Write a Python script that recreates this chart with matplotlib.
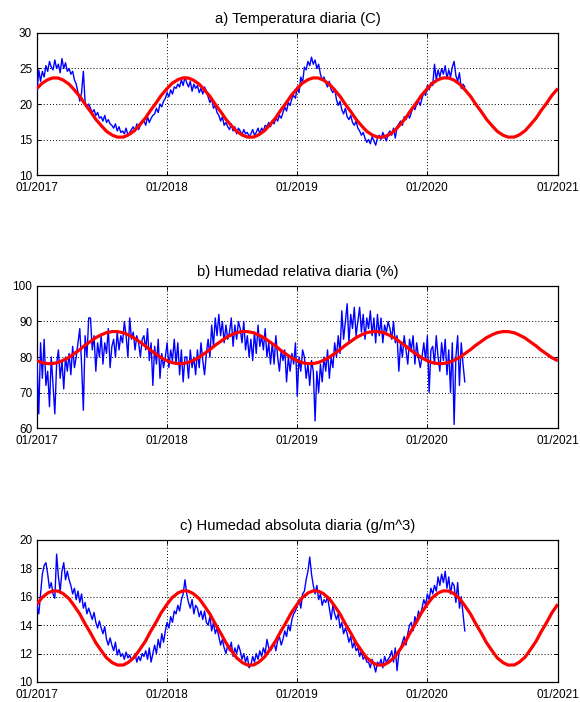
import matplotlib
matplotlib.use('agg')
import matplotlib.pyplot as plt
import pandas as pd

plt.rcParams['font.family'] = ['Liberation Sans', 'DejaVu Sans']

# observed series, one value every 5 days from 01/01/2017 (rows ~ one month)
temp_obs = [
    21.8, 24.8, 23.2, 24.6, 23.8, 25.4,
    24.6, 26.0, 25.2, 24.8, 26.2, 25.0,
    25.6, 24.4, 26.4, 25.0, 25.8, 24.6,
    25.0, 24.2, 24.6, 23.4, 22.8, 21.6,
    20.4, 21.6, 24.6, 20.2, 19.6, 20.0,
    19.4, 18.8, 19.2, 18.4, 18.8, 18.0,
    18.2, 17.6, 18.4, 17.4, 17.8, 17.2,
    17.0, 16.6, 17.2, 16.2, 16.8, 16.0,
    16.2, 15.8, 16.6, 15.6, 16.0, 16.4,
    16.8, 16.2, 17.2, 16.4, 17.0, 17.4,
    17.6, 17.0, 18.2, 17.4, 18.0, 18.4,
    18.6, 19.4, 18.8, 20.0, 19.6, 20.4,
    20.8, 21.6, 21.0, 22.0, 21.4, 22.4,
    22.2, 22.8, 22.4, 23.4, 22.6, 23.8,
    23.0, 22.4, 23.2, 21.8, 22.8, 22.2,
    22.6, 21.6, 22.2, 21.4, 22.4, 21.8,
    21.0, 20.2, 20.8, 19.4, 19.8, 18.8,
    18.4, 17.6, 18.2, 17.0, 17.4, 16.8,
    16.4, 17.2, 16.2, 16.8, 15.8, 16.6,
    16.2, 15.6, 16.4, 15.8, 16.0, 15.4,
    15.8, 16.4, 15.6, 16.0, 16.6, 15.8,
    16.6, 16.2, 17.0, 16.8, 17.4, 16.8,
    17.6, 17.2, 18.0, 17.6, 18.4, 18.0,
    18.8, 19.6, 19.0, 20.2, 19.8, 20.8,
    21.2, 20.8, 22.4, 21.6, 23.8, 23.0,
    25.2, 24.8, 26.0, 25.4, 26.6, 25.6,
    26.2, 25.0, 25.6, 24.2, 23.4, 23.8,
    23.0, 22.4, 23.2, 22.0, 21.6, 22.2,
    20.6, 19.8, 20.4, 19.2, 18.6, 19.4,
    18.2, 17.8, 18.4, 17.4, 17.0, 17.6,
    16.6, 16.2, 15.6, 16.0, 15.2, 14.6,
    15.0, 14.4, 15.4, 14.8, 14.2, 15.2,
    15.6, 15.0, 16.0, 15.4, 14.8, 15.8,
    16.2, 15.6, 16.6, 15.2, 16.8, 17.2,
    17.6, 17.0, 18.2, 17.8, 18.6, 18.0,
    18.8, 19.6, 19.2, 20.0, 20.4, 19.8,
    20.8, 21.6, 21.2, 22.6, 22.0, 23.0,
    22.6, 25.6, 23.4, 24.8, 23.8, 25.0,
    24.2, 25.4, 23.6, 24.8, 23.8, 25.2,
    26.0, 24.0, 23.2, 24.4, 22.2, 22.8,
    22.4]

rh_obs = [
    79, 64, 84, 74, 85, 72,
    76, 66, 80, 72, 64, 78,
    82, 74, 79, 71, 80, 76,
    81, 75, 83, 77, 80, 84,
    88, 78, 65, 86, 80, 91,
    91, 82, 86, 76, 84, 80,
    86, 78, 84, 81, 88, 77,
    83, 85, 80, 87, 82, 86,
    84, 90, 86, 80, 91, 85,
    87, 82, 86, 84, 80, 85,
    86, 82, 88, 79, 84, 72,
    83, 78, 85, 74, 81, 77,
    80, 84, 77, 82, 79, 85,
    78, 84, 75, 82, 73, 80,
    80, 74, 82, 77, 80, 75,
    82, 77, 84, 79, 75, 81,
    85, 80, 89, 83, 91, 86,
    92, 86, 90, 84, 89, 85,
    87, 91, 83, 89, 85, 90,
    88, 84, 90, 82, 86, 80,
    85, 79, 87, 81, 89, 83,
    86, 82, 88, 80, 84, 78,
    84, 78, 86, 80, 76, 82,
    79, 82, 73, 80, 76, 81,
    78, 84, 69, 80, 76, 82,
    80, 74, 78, 72, 79, 76,
    62, 76, 70, 78, 73, 80,
    76, 82, 74, 80, 77, 84,
    80, 86, 81, 93, 85, 90,
    95, 84, 92, 88, 94, 86,
    90, 94, 87, 92, 85, 91,
    88, 93, 86, 91, 84, 92,
    86, 91, 84, 89, 87, 90,
    88, 85, 90, 84, 86, 76,
    84, 80, 86, 82, 78, 85,
    82, 86, 78, 84, 80, 77,
    80, 84, 79, 86, 70, 82,
    83, 78, 86, 80, 76, 84,
    79, 85, 75, 82, 70, 84,
    61, 80, 86, 72, 84, 78,
    73]

ah_obs = [
    15.4, 14.8, 16.2, 17.6, 18.2, 18.4,
    17.6, 16.6, 17.0, 16.2, 15.9, 19.0,
    17.4, 16.4, 17.8, 18.4, 17.2, 17.8,
    17.2, 16.8, 16.2, 16.6, 15.8, 16.4,
    15.6, 16.2, 15.2, 15.6, 14.8, 15.2,
    14.8, 14.4, 14.9, 14.2, 13.8, 14.3,
    13.8, 13.4, 13.9, 13.0, 12.6, 13.1,
    12.6, 12.2, 12.8, 11.9, 12.3, 11.8,
    12.0, 11.6, 12.1, 11.7, 11.9, 11.5,
    11.7, 12.0, 11.4, 11.8, 11.5, 12.0,
    11.8, 12.2, 11.6, 12.4, 11.4, 12.0,
    12.6, 12.0, 13.0, 12.4, 13.4, 12.8,
    13.6, 14.2, 13.8, 14.6, 14.2, 15.0,
    14.8, 15.4, 15.0, 15.8, 16.2, 17.2,
    16.2, 15.6, 15.2, 15.8, 14.8, 15.4,
    15.2, 14.6, 15.0, 14.4, 15.0, 14.2,
    14.0, 14.6, 13.6, 14.2, 13.4, 13.8,
    13.2, 12.6, 13.0, 12.4, 12.0, 12.6,
    12.2, 12.8, 11.8, 12.4, 12.0, 12.6,
    12.2, 11.6, 12.0, 11.4, 11.8, 11.0,
    11.2, 11.8, 11.4, 12.0, 11.6, 12.2,
    11.8, 12.4, 12.0, 13.0, 12.4, 12.2,
    12.4, 12.8, 12.2, 12.9, 13.2, 12.6,
    13.0, 13.6, 13.2, 14.0, 13.6, 14.4,
    14.8, 15.0, 15.4, 15.8, 15.2, 16.2,
    16.4, 17.2, 17.8, 18.8, 17.6, 16.8,
    16.2, 16.8, 15.8, 16.2, 15.4, 15.8,
    15.6, 16.0, 15.2, 14.4, 15.4, 14.8,
    14.4, 14.8, 13.8, 14.2, 13.4, 13.8,
    13.4, 12.8, 13.2, 12.4, 12.8, 12.2,
    12.4, 11.8, 12.2, 11.6, 11.8, 11.4,
    11.4, 11.0, 11.6, 11.2, 10.7, 11.4,
    11.2, 11.6, 11.0, 11.8, 11.4, 11.6,
    11.8, 12.2, 11.4, 12.4, 10.8, 12.0,
    12.4, 12.8, 13.2, 12.6, 13.4, 14.0,
    14.2, 13.6, 14.6, 14.2, 15.0, 14.6,
    15.2, 15.8, 15.4, 16.2, 15.8, 16.6,
    16.2, 16.8, 16.4, 17.4, 16.8, 17.6,
    17.0, 17.8, 16.6, 17.4, 16.2, 17.0,
    16.8, 15.6, 17.0, 15.2, 16.0, 14.8,
    13.6]

# fitted annual cycle, values on the 1st and 15th of each month (2017-2020) + 01/2021
temp_fit = [
    22.18, 22.92, 23.45, 23.68, 23.66, 23.38, 22.79, 22.02, 21.08, 20.03, 18.87, 17.84,
    16.91, 16.15, 15.59, 15.33, 15.35, 15.66, 16.23, 17.01, 18.02, 19.07, 20.15, 21.19,
    22.18, 22.92, 23.45, 23.68, 23.66, 23.38, 22.79, 22.02, 21.08, 20.03, 18.87, 17.84,
    16.91, 16.15, 15.59, 15.33, 15.35, 15.66, 16.23, 17.01, 18.02, 19.07, 20.15, 21.19,
    22.18, 22.92, 23.45, 23.68, 23.66, 23.38, 22.79, 22.02, 21.08, 20.03, 18.87, 17.84,
    16.91, 16.15, 15.59, 15.33, 15.35, 15.66, 16.23, 17.01, 18.02, 19.07, 20.15, 21.19,
    22.18, 22.92, 23.45, 23.68, 23.66, 23.38, 22.79, 22.02, 21.08, 20.03, 18.87, 17.84,
    16.91, 16.15, 15.59, 15.33, 15.35, 15.66, 16.23, 17.01, 18.02, 19.07, 20.15, 21.19,
    22.18]

rh_fit = [
    78.95, 78.40, 78.12, 78.17, 78.45, 79.04, 79.92, 80.94, 82.08, 83.25, 84.45, 85.46,
    86.28, 86.86, 87.17, 87.15, 86.81, 86.19, 85.35, 84.32, 83.12, 81.94, 80.82, 79.82,
    78.95, 78.40, 78.12, 78.17, 78.45, 79.04, 79.92, 80.94, 82.08, 83.25, 84.45, 85.46,
    86.28, 86.86, 87.17, 87.15, 86.81, 86.19, 85.35, 84.32, 83.12, 81.94, 80.82, 79.82,
    78.95, 78.40, 78.12, 78.17, 78.45, 79.04, 79.92, 80.94, 82.08, 83.25, 84.45, 85.46,
    86.28, 86.86, 87.17, 87.15, 86.81, 86.19, 85.35, 84.32, 83.12, 81.94, 80.82, 79.82,
    78.95, 78.40, 78.12, 78.17, 78.45, 79.04, 79.92, 80.94, 82.08, 83.25, 84.45, 85.46,
    86.28, 86.86, 87.17, 87.15, 86.81, 86.19, 85.35, 84.32, 83.12, 81.94, 80.82, 79.82,
    78.95]

ah_fit = [
    15.48, 15.94, 16.28, 16.42, 16.40, 16.23, 15.86, 15.38, 14.79, 14.13, 13.41, 12.76,
    12.18, 11.70, 11.35, 11.19, 11.20, 11.40, 11.75, 12.24, 12.87, 13.53, 14.21, 14.86,
    15.48, 15.94, 16.28, 16.42, 16.40, 16.23, 15.86, 15.38, 14.79, 14.13, 13.41, 12.76,
    12.18, 11.70, 11.35, 11.19, 11.20, 11.40, 11.75, 12.24, 12.87, 13.53, 14.21, 14.86,
    15.48, 15.94, 16.28, 16.42, 16.40, 16.23, 15.86, 15.38, 14.79, 14.13, 13.41, 12.76,
    12.18, 11.70, 11.35, 11.19, 11.20, 11.40, 11.75, 12.24, 12.87, 13.53, 14.21, 14.86,
    15.48, 15.94, 16.28, 16.42, 16.40, 16.23, 15.86, 15.38, 14.79, 14.13, 13.41, 12.76,
    12.18, 11.70, 11.35, 11.19, 11.20, 11.40, 11.75, 12.24, 12.87, 13.53, 14.21, 14.86,
    15.48]

titles = ['a) Temperatura diaria (C)',
          'b) Humedad relativa diaria (%)',
          'c) Humedad absoluta diaria (g/m^3)']
ylims = [(10, 30), (60, 100), (10, 20)]
yticks = [[10, 15, 20, 25, 30], [60, 70, 80, 90, 100], [10, 12, 14, 16, 18, 20]]
xtick_labels = ['01/2017', '01/2018', '01/2019', '01/2020', '01/2021']

obs_dates = pd.date_range('2017-01-01', periods=len(temp_obs), freq='5D')
fit_dates = list(pd.date_range('2017-01-01', '2020-12-31', freq='SMS')) + [pd.Timestamp('2021-01-01')]
xtick_dates = [pd.Timestamp(f'{y}-01-01') for y in range(2017, 2022)]

fig = plt.figure(figsize=(5.8, 7.02), dpi=100)
bottoms = [0.7507, 0.3903, 0.0285]
series = [(temp_obs, temp_fit), (rh_obs, rh_fit), (ah_obs, ah_fit)]

for i in range(3):
    ax = fig.add_axes([0.0638, bottoms[i], 0.898, 0.2023])
    obs, fit = series[i]
    ax.plot(obs_dates, obs, color='blue', lw=1.0, zorder=3)
    ax.plot(fit_dates, fit, color='red', lw=2.3, zorder=4, solid_capstyle='butt')

    ax.set_xlim(xtick_dates[0], xtick_dates[-1])
    ax.set_ylim(ylims[i])
    ax.set_yticks(yticks[i])
    ax.set_xticks(xtick_dates)
    ax.set_xticklabels(xtick_labels)

    ax.grid(True, color='black', linestyle=(0, (1, 2.2)), linewidth=0.7)
    ax.set_axisbelow(True)
    ax.tick_params(direction='in', length=3, width=0.7, top=True, right=True,
                   labelsize=8.5, colors='black')
    ax.tick_params(axis='x', pad=5)
    for s in ax.spines.values():
        s.set_linewidth(0.9)
    ax.set_title(titles[i], fontsize=10.6, pad=7)

fig.savefig('out.png', dpi=100)
